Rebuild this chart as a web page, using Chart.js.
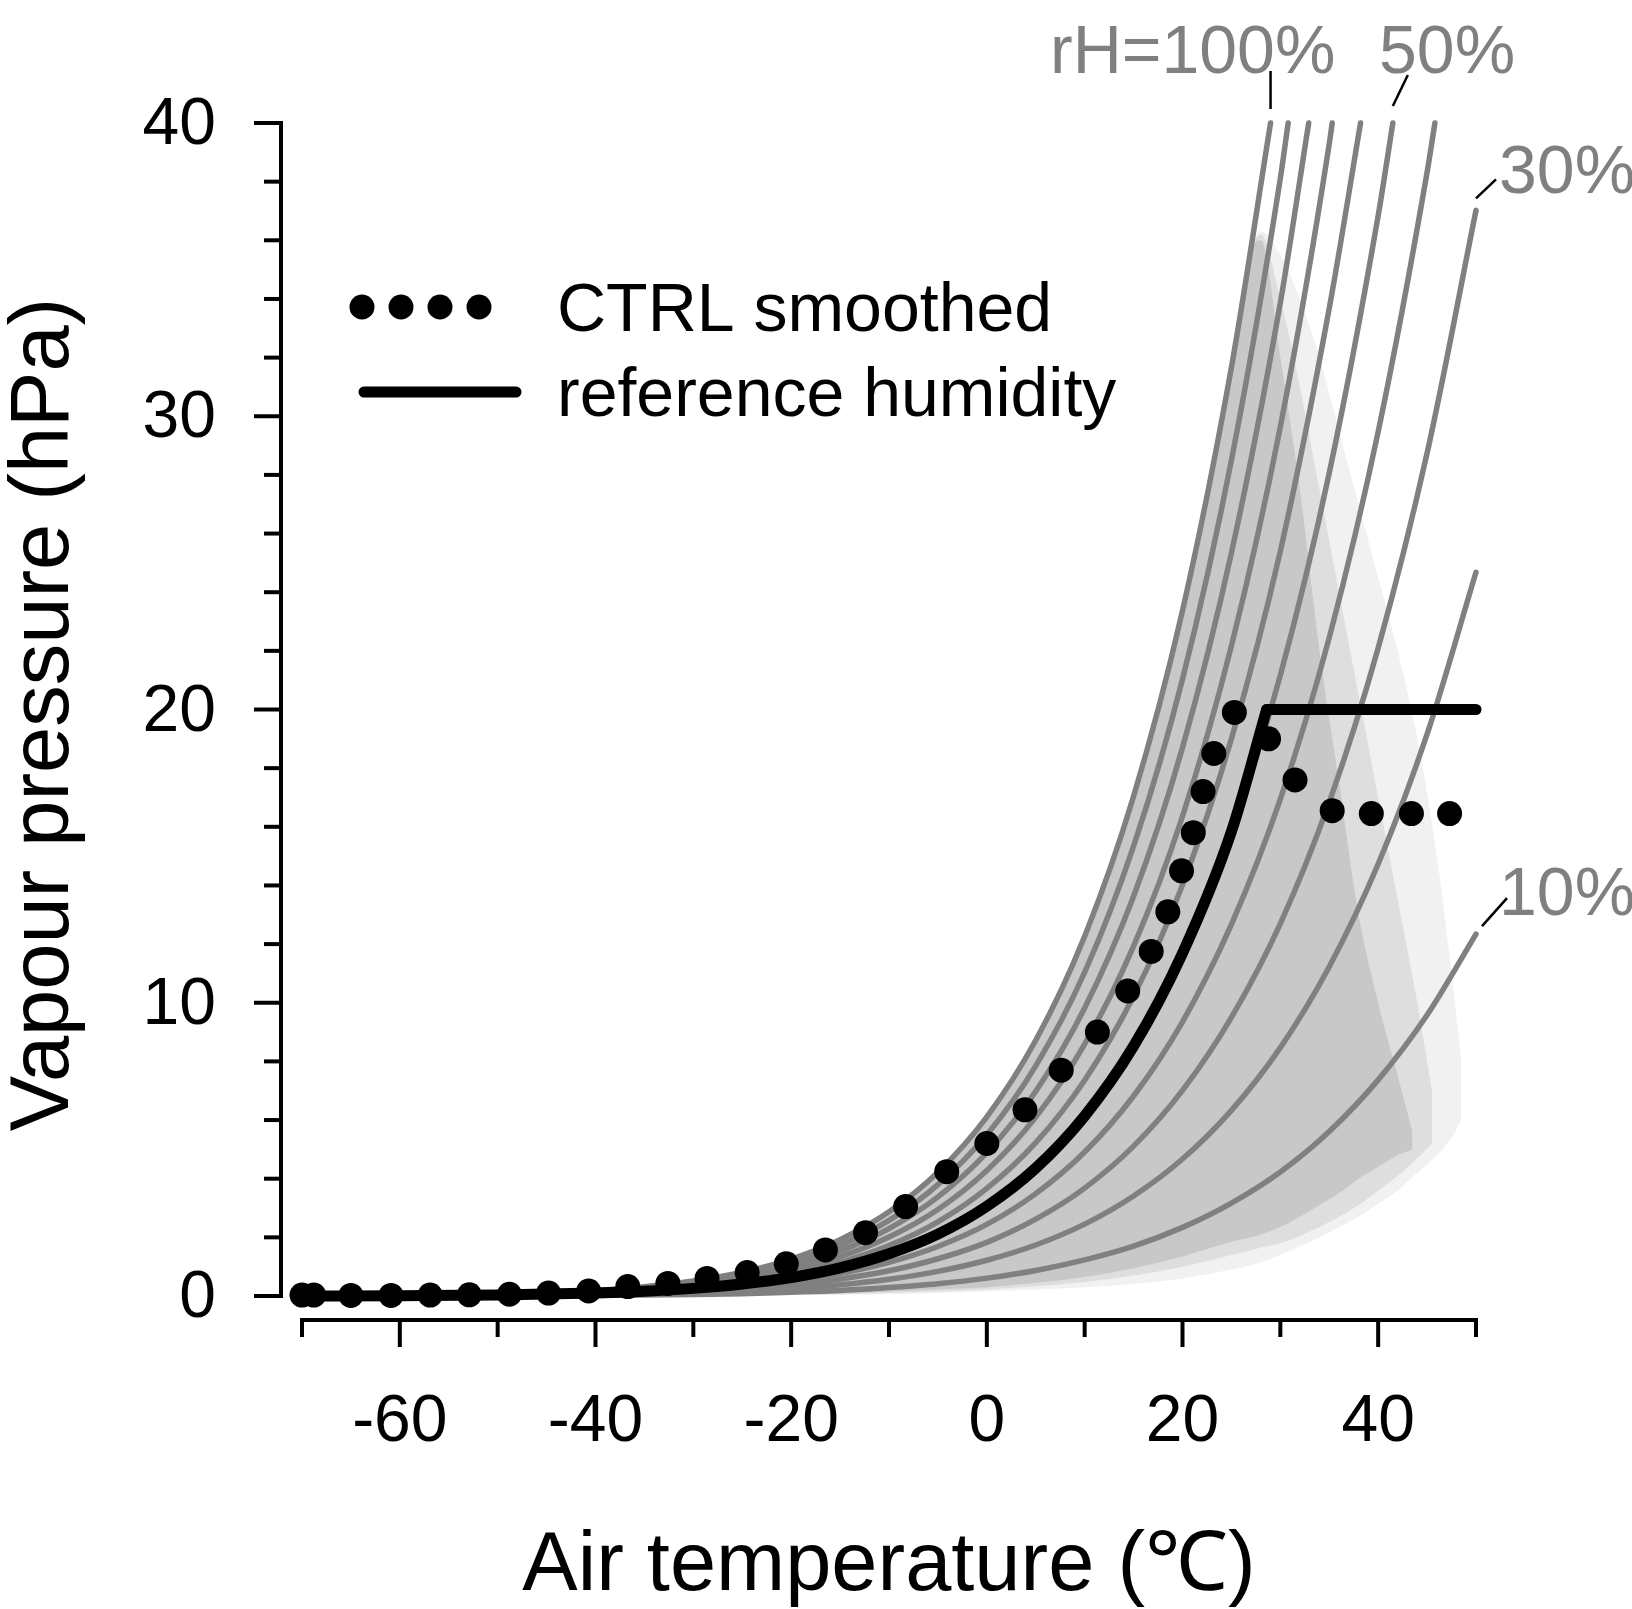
<!DOCTYPE html>
<html>
<head>
<meta charset="utf-8">
<title>Vapour pressure vs air temperature</title>
<script src="https://cdn.jsdelivr.net/npm/chart.js@4.4.1/dist/chart.umd.min.js"></script>
<style>
  html, body { margin: 0; padding: 0; background: #fff; overflow: hidden; }
  canvas { display: block; }
</style>
</head>
<body>
<canvas id="chart" width="1632" height="1609"></canvas>
<script>
// temperature grid (°C) for the rH isolines
const tempGrid = [-70, -60, -50, -40, -35, -30, -25, -20, -15, -10, -5, 0, 5, 10, 15, 20, 25, 30, 35, 40, 45, 50];

// vapour pressure (hPa) along each isoline
const rh100 = [0.00, 0.02, 0.06, 0.19, 0.32, 0.51, 0.81, 1.26, 1.92, 2.87, 4.22, 6.11, 8.72, 12.27, 17.04, 23.37, 31.67];
const rh90 = [0.00, 0.02, 0.06, 0.17, 0.29, 0.46, 0.73, 1.13, 1.73, 2.58, 3.80, 5.50, 7.85, 11.04, 15.34, 21.03, 28.50, 38.11];
const rh80 = [0.00, 0.02, 0.05, 0.15, 0.26, 0.41, 0.65, 1.01, 1.54, 2.30, 3.38, 4.89, 6.98, 9.82, 13.63, 18.70, 25.34, 33.87];
const rh70 = [0.00, 0.01, 0.04, 0.13, 0.22, 0.36, 0.57, 0.88, 1.34, 2.01, 2.95, 4.28, 6.10, 8.59, 11.93, 16.36, 22.17, 29.64, 39.29];
const rh60 = [0.00, 0.01, 0.04, 0.11, 0.19, 0.31, 0.49, 0.76, 1.15, 1.72, 2.53, 3.67, 5.23, 7.36, 10.22, 14.02, 19.00, 25.40, 33.68];
const rh50 = [0.00, 0.01, 0.03, 0.10, 0.16, 0.26, 0.41, 0.63, 0.96, 1.44, 2.11, 3.06, 4.36, 6.14, 8.52, 11.69, 15.84, 21.17, 28.07, 36.84];
const rh40 = [0.00, 0.01, 0.03, 0.08, 0.13, 0.20, 0.32, 0.50, 0.77, 1.15, 1.69, 2.44, 3.49, 4.91, 6.82, 9.35, 12.67, 16.94, 22.45, 29.47, 38.32];
const rh30 = [0.00, 0.01, 0.02, 0.06, 0.10, 0.15, 0.24, 0.38, 0.58, 0.86, 1.27, 1.83, 2.62, 3.68, 5.11, 7.01, 9.50, 12.70, 16.84, 22.10, 28.74, 37.02];
const rh20 = [0.00, 0.00, 0.01, 0.04, 0.06, 0.10, 0.16, 0.25, 0.38, 0.57, 0.84, 1.22, 1.74, 2.45, 3.41, 4.67, 6.33, 8.47, 11.23, 14.73, 19.16, 24.68];
const rh10 = [0.00, 0.00, 0.01, 0.02, 0.03, 0.05, 0.08, 0.13, 0.19, 0.29, 0.42, 0.61, 0.87, 1.23, 1.70, 2.34, 3.17, 4.23, 5.61, 7.37, 9.58, 12.34];
const rhCurves = [rh100, rh90, rh80, rh70, rh60, rh50, rh40, rh30, rh20, rh10];
// temperature where a curve runs out of the top of the plot (null = reaches 50 °C)
const rhTopTemp = [29.0, 30.8, 32.9, 35.3, 38.2, 41.5, 45.8, null, null, null];

// CTRL smoothed
const ctrlTemp = [-70.0, -68.8, -65.0, -60.9, -56.9, -52.9, -48.8, -44.8, -40.7, -36.7, -32.6, -28.6, -24.5, -20.5, -16.5, -12.4, -8.3, -4.1, 0.0, 3.9, 7.6, 11.3, 14.4, 16.8, 18.5, 19.9, 21.1, 22.1, 23.2, 25.3, 28.8, 31.5, 35.3, 39.3, 43.4, 47.3];
const ctrlVapour = [0.03, 0.03, 0.02, 0.02, 0.03, 0.04, 0.06, 0.10, 0.17, 0.32, 0.43, 0.60, 0.80, 1.10, 1.57, 2.16, 3.05, 4.24, 5.20, 6.35, 7.70, 9.00, 10.40, 11.75, 13.10, 14.50, 15.80, 17.20, 18.50, 19.90, 19.00, 17.60, 16.55, 16.45, 16.45, 16.45];

// reference humidity: rising part, then the 20 hPa cap
const refTemp = [-70, -60, -50, -40, -35, -30, -25, -20, -15, -10, -5, 0, 5, 10, 15, 20, 25, 28.6];
const refVapour = [0.00, 0.01, 0.03, 0.10, 0.16, 0.26, 0.41, 0.63, 0.96, 1.44, 2.11, 3.06, 4.36, 6.14, 8.52, 11.69, 15.84, 20.0];
const refCapTemp = [28.6, 50];
const refCapVapour = [20.0, 20.0];

// envelopes of the grey point cloud (dense core, medium, sparse fringe)
const denseTemp = [-30, -25, -20, -15, -10, -5, 0, 5, 10, 15, 20, 25, 27, 28, 30, 32, 34, 36, 38, 40, 42, 43.5];
const denseTop = [0.51, 0.81, 1.26, 1.92, 2.87, 4.22, 6.11, 8.72, 12.27, 17.04, 23.37, 31.67, 35.6, 36.0, 32.0, 27.5, 22.0, 17.5, 13.0, 10.0, 7.5, 5.6];
const denseBottom = [0.03, 0.04, 0.06, 0.09, 0.15, 0.22, 0.30, 0.45, 0.65, 0.95, 1.35, 1.85, 2.00, 2.10, 2.35, 2.70, 3.10, 3.50, 4.00, 4.40, 4.80, 5.00];
const medTemp = [-30, -25, -20, -15, -10, -5, 0, 5, 10, 15, 20, 25, 27, 28, 30, 32, 34, 36, 38, 40, 42, 44, 45.5];
const medTop = [0.51, 0.81, 1.26, 1.92, 2.87, 4.22, 6.11, 8.72, 12.27, 17.04, 23.37, 31.67, 35.6, 36.2, 34.0, 31.0, 27.5, 24.0, 20.5, 17.0, 13.5, 10.0, 7.0];
const medBottom = [0.02, 0.03, 0.04, 0.06, 0.10, 0.15, 0.22, 0.33, 0.48, 0.70, 1.00, 1.40, 1.55, 1.65, 1.80, 2.05, 2.35, 2.70, 3.10, 3.60, 4.10, 4.70, 5.20];
const sparseTemp = [-30, -25, -20, -15, -10, -5, 0, 5, 10, 15, 20, 25, 27, 28, 30, 32, 34, 36, 38, 40, 42, 44, 46, 47.5, 48.5];
const sparseTop = [0.51, 0.81, 1.26, 1.92, 2.87, 4.22, 6.11, 8.72, 12.27, 17.04, 23.37, 31.67, 35.6, 36.3, 35.5, 34.0, 32.0, 29.5, 27.0, 24.5, 22.0, 19.0, 15.0, 11.0, 8.0];
const sparseBottom = [0.01, 0.02, 0.03, 0.04, 0.06, 0.10, 0.15, 0.22, 0.30, 0.42, 0.60, 0.90, 1.05, 1.15, 1.40, 1.70, 2.00, 2.35, 2.70, 3.15, 3.60, 4.20, 4.80, 5.40, 6.00];

// axes
const xTicks = [-70, -60, -50, -40, -30, -20, -10, 0, 10, 20, 30, 40, 50];
const xLabels = [-60, -40, -20, 0, 20, 40];
const yTicks = [0, 2, 4, 6, 8, 10, 12, 14, 16, 18, 20, 22, 24, 26, 28, 30, 32, 34, 36, 38, 40];
const yLabels = [0, 10, 20, 30, 40];

const FONT = '"Liberation Sans", Arial, Helvetica, sans-serif';
const GREY = '#808080';

const pts = (xs, ys) => xs.map((x, i) => ({ x: x, y: ys[i] }));

const curveSets = rhCurves.map((vals, i) => {
  const data = pts(tempGrid.slice(0, vals.length), vals);
  if (rhTopTemp[i] !== null) data.push({ x: rhTopTemp[i], y: 40 });
  return {
    data: data,
    borderColor: GREY,
    borderWidth: 5.5,
    borderCapStyle: 'round',
    pointRadius: 0,
    cubicInterpolationMode: 'monotone',
    clip: false,
    order: 2
  };
});

function band(xs, top, bottom, colour, order) {
  const common = { borderWidth: 0, borderColor: 'transparent', pointRadius: 0, cubicInterpolationMode: 'monotone', order: order };
  return [
    Object.assign({ data: pts(xs, top), fill: '+1', backgroundColor: colour }, common),
    Object.assign({ data: pts(xs, bottom), fill: false }, common)
  ];
}

const frame = {
  id: 'frame',
  afterDraw(chart) {
    const { ctx, scales: { x, y } } = chart;
    const axisX = x.getPixelForValue(-70) - 21;
    const axisY = y.getPixelForValue(0) + 24;
    ctx.save();
    ctx.strokeStyle = '#000';
    ctx.fillStyle = '#000';
    ctx.lineWidth = 4;
    ctx.lineCap = 'square';

    // y axis
    ctx.beginPath();
    ctx.moveTo(axisX, y.getPixelForValue(0));
    ctx.lineTo(axisX, y.getPixelForValue(40));
    ctx.stroke();
    ctx.lineCap = 'butt';
    yTicks.forEach(v => {
      const py = y.getPixelForValue(v);
      const len = yLabels.includes(v) ? 27 : 17;
      ctx.beginPath();
      ctx.moveTo(axisX, py);
      ctx.lineTo(axisX - len, py);
      ctx.stroke();
    });

    // x axis
    ctx.lineCap = 'square';
    ctx.beginPath();
    ctx.moveTo(x.getPixelForValue(-70), axisY);
    ctx.lineTo(x.getPixelForValue(50), axisY);
    ctx.stroke();
    ctx.lineCap = 'butt';
    xTicks.forEach(v => {
      const px = x.getPixelForValue(v);
      const len = xLabels.includes(v) ? 27 : 17;
      ctx.beginPath();
      ctx.moveTo(px, axisY);
      ctx.lineTo(px, axisY + len);
      ctx.stroke();
    });

    // tick labels
    ctx.font = '66px ' + FONT;
    ctx.textAlign = 'right';
    ctx.textBaseline = 'middle';
    yLabels.forEach(v => ctx.fillText(String(v), axisX - 65, y.getPixelForValue(v) + 3));
    ctx.textAlign = 'center';
    ctx.textBaseline = 'alphabetic';
    xLabels.forEach(v => ctx.fillText(String(v), x.getPixelForValue(v), axisY + 121));

    // axis titles
    ctx.font = '83px ' + FONT;
    ctx.fillText('Air temperature (\u2103)', x.getPixelForValue(-10), 1590);
    ctx.save();
    ctx.translate(68, (y.getPixelForValue(0) + y.getPixelForValue(40)) / 2 + 5);
    ctx.rotate(-Math.PI / 2);
    ctx.fillText('Vapour pressure (hPa)', 0, 0);
    ctx.restore();

    // legend
    [362, 401, 440, 479].forEach(cx => {
      ctx.beginPath();
      ctx.arc(cx, 307, 12.5, 0, Math.PI * 2);
      ctx.fill();
    });
    ctx.lineWidth = 11;
    ctx.lineCap = 'round';
    ctx.beginPath();
    ctx.moveTo(364, 392);
    ctx.lineTo(516, 392);
    ctx.stroke();
    ctx.font = '68px ' + FONT;
    ctx.textAlign = 'left';
    ctx.fillText('CTRL smoothed', 557, 331);
    ctx.fillText('reference humidity', 557, 416);

    // rH labels with leader lines
    ctx.lineWidth = 2.5;
    ctx.lineCap = 'butt';
    const top = y.getPixelForValue(40);
    const leaders = [
      [x.getPixelForValue(rhTopTemp[0]), top - 14, x.getPixelForValue(rhTopTemp[0]), top - 52],
      [x.getPixelForValue(rhTopTemp[5]), top - 17, x.getPixelForValue(rhTopTemp[5]) + 15, top - 48],
      [x.getPixelForValue(50), y.getPixelForValue(rh30[21]) - 12, x.getPixelForValue(50) + 20, y.getPixelForValue(rh30[21]) - 31],
      [x.getPixelForValue(50) + 6, y.getPixelForValue(rh10[21]) - 8, x.getPixelForValue(50) + 31, y.getPixelForValue(rh10[21]) - 36]
    ];
    leaders.forEach(l => {
      ctx.beginPath();
      ctx.moveTo(l[0], l[1]);
      ctx.lineTo(l[2], l[3]);
      ctx.stroke();
    });
    ctx.fillStyle = GREY;
    ctx.fillText('rH=100%', 1050, 73);
    ctx.fillText('50%', 1379, 73);
    ctx.fillText('30%', 1499, 193);
    ctx.fillText('10%', 1499, 915);
    ctx.restore();
  }
};

new Chart(document.getElementById('chart'), {
  type: 'line',
  data: {
    datasets: [
      {
        data: pts(ctrlTemp, ctrlVapour),
        showLine: false,
        pointRadius: 12.5,
        pointBackgroundColor: '#000',
        pointBorderWidth: 0,
        clip: false,
        order: 0
      },
      {
        data: pts(refTemp, refVapour),
        borderColor: '#000',
        borderWidth: 11,
        borderCapStyle: 'round',
        pointRadius: 0,
        cubicInterpolationMode: 'monotone',
        clip: false,
        order: 1
      },
      {
        data: pts(refCapTemp, refCapVapour),
        borderColor: '#000',
        borderWidth: 11,
        borderCapStyle: 'round',
        pointRadius: 0,
        clip: false,
        order: 1
      },
      ...curveSets,
      ...band(denseTemp, denseTop, denseBottom, '#c8c8c8', 3),
      ...band(medTemp, medTop, medBottom, '#dedede', 4),
      ...band(sparseTemp, sparseTop, sparseBottom, '#f1f1f1', 5)
    ]
  },
  options: {
    responsive: false,
    animation: false,
    layout: { padding: { left: 302, right: 156, top: 123, bottom: 313 } },
    scales: {
      x: { type: 'linear', min: -70, max: 50, display: false },
      y: { type: 'linear', min: 0, max: 40, display: false }
    },
    plugins: {
      legend: { display: false },
      tooltip: { enabled: false }
    }
  },
  plugins: [frame]
});
</script>
</body>
</html>
